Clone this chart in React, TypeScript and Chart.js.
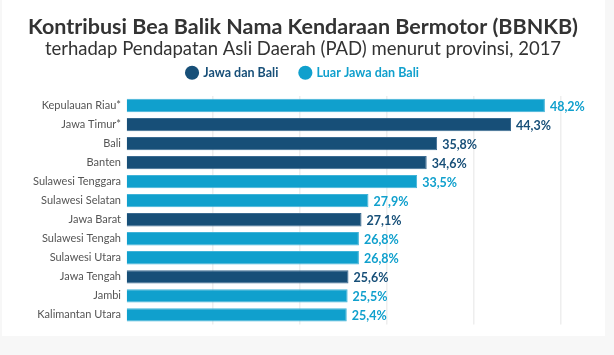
import React, { useEffect, useRef } from "react";
import { Chart, registerables } from "chart.js";

Chart.register(...registerables);

const provinces = [
  "Kepulauan Riau*",
  "Jawa Timur*",
  "Bali",
  "Banten",
  "Sulawesi Tenggara",
  "Sulawesi Selatan",
  "Jawa Barat",
  "Sulawesi Tengah",
  "Sulawesi Utara",
  "Jawa Tengah",
  "Jambi",
  "Kalimantan Utara",
];
const values = [48.2, 44.3, 35.8, 34.6, 33.5, 27.9, 27.1, 26.8, 26.8, 25.6, 25.5, 25.4];
// true = Jawa dan Bali, false = Luar Jawa dan Bali
const isJawaBali = [false, true, true, true, false, false, true, false, false, true, false, false];
const seriesNames = ["Jawa dan Bali", "Luar Jawa dan Bali"];

const DARK = "#174f78";
const LIGHT = "#10a0cd";

const valueLabels = {
  id: "valueLabels",
  afterDatasetsDraw(chart: any) {
    const ctx = chart.ctx;
    ctx.save();
    ctx.font = "bold 12.5px Lato";
    ctx.textBaseline = "middle";
    ctx.textAlign = "left";
    chart.data.datasets.forEach((ds: any, i: number) => {
      const meta = chart.getDatasetMeta(i);
      meta.data.forEach((el: any, j: number) => {
        const v = ds.data[j];
        if (v === null || v === undefined) return;
        ctx.fillStyle = ds.backgroundColor;
        ctx.fillText(v.toFixed(1).replace(".", ",") + "%", el.x + 5, el.y + 1);
      });
    });
    ctx.restore();
  },
};

export default function App() {
  const ref = useRef<HTMLCanvasElement>(null);
  useEffect(() => {
    if (!ref.current) return;
    const chart = new Chart(ref.current, {
      type: "bar",
      data: {
        labels: provinces,
        datasets: [
          {
            label: seriesNames[0],
            data: values.map((v, i) => (isJawaBali[i] ? v : null)),
            backgroundColor: DARK,
            borderColor: "#3a6a90",
            borderWidth: 1,
            barPercentage: 0.7,
            categoryPercentage: 1,
          },
          {
            label: seriesNames[1],
            data: values.map((v, i) => (!isJawaBali[i] ? v : null)),
            backgroundColor: LIGHT,
            borderColor: "#40b3d8",
            borderWidth: 1,
            barPercentage: 0.7,
            categoryPercentage: 1,
          },
        ],
      },
      plugins: [valueLabels],
      options: {
        indexAxis: "y",
        animation: false,
        responsive: false,
        maintainAspectRatio: false,
        layout: { padding: { top: 0, right: 1, left: 0, bottom: 0 } },
        plugins: {
          title: {
            display: true,
            text: "Kontribusi Bea Balik Nama Kendaraan Bermotor (BBNKB)",
            color: "#333333",
            font: { family: "Lato", size: 21.5, weight: "bold", lineHeight: 1 },
            padding: { top: 16, bottom: 0 },
          },
          subtitle: {
            display: true,
            text: "terhadap Pendapatan Asli Daerah (PAD) menurut provinsi, 2017",
            color: "#333333",
            font: { family: "Lato", size: 18.5, weight: "normal", lineHeight: 1 },
            padding: { top: 2, bottom: -13.5 },
          },
          legend: {
            display: true,
            position: "top",
            labels: {
              usePointStyle: true,
              pointStyle: "circle",
              boxWidth: 10,
              boxHeight: 10,
              padding: 22,
              font: { family: "Lato", size: 12.5, weight: "bold" },
              generateLabels(chart: any) {
                const items = (Chart as any).defaults.plugins.legend.labels.generateLabels(chart);
                return items.map((it: any, i: number) => ({
                  ...it,
                  fontColor: chart.data.datasets[i].backgroundColor,
                  fillStyle: chart.data.datasets[i].backgroundColor,
                  strokeStyle: chart.data.datasets[i].backgroundColor,
                  lineWidth: 0,
                }));
              },
            },
          },
          tooltip: { enabled: false },
        },
        scales: {
          x: {
            position: "top",
            stacked: true,
            min: 0,
            max: 55,
            ticks: { display: false, stepSize: 10 },
            grid: {
              drawTicks: true,
              tickLength: 7,
              tickColor: "rgba(0,0,0,0)",
              lineWidth: 1.5,
              color: (c: any) =>
                c.tick && c.tick.value > 0 && c.tick.value % 10 === 0 ? "#eeeeee" : "rgba(0,0,0,0)",
            },
            border: { display: false },
          },
          y: {
            stacked: true,
            grid: { display: false, drawTicks: false },
            border: { display: false },
            ticks: {
              padding: 5,
              color: "#555555",
              font: { family: "Lato", size: 11 },
            },
            afterFit(scale: any) {
              scale.width = 124;
            },
          },
        },
      },
    } as any);
    return () => chart.destroy();
  }, []);

  return (
    <div
      style={{
        position: "fixed",
        left: 0,
        top: 0,
        width: 614,
        height: 355,
        background: "#f7f7f7",
      }}
    >
      <div
        style={{
          position: "absolute",
          left: 2,
          top: 0,
          width: 603,
          height: 336,
          background: "#ffffff",
        }}
      >
        <canvas ref={ref} width={603} height={336} style={{ display: "block" }} />
      </div>
    </div>
  );
}
